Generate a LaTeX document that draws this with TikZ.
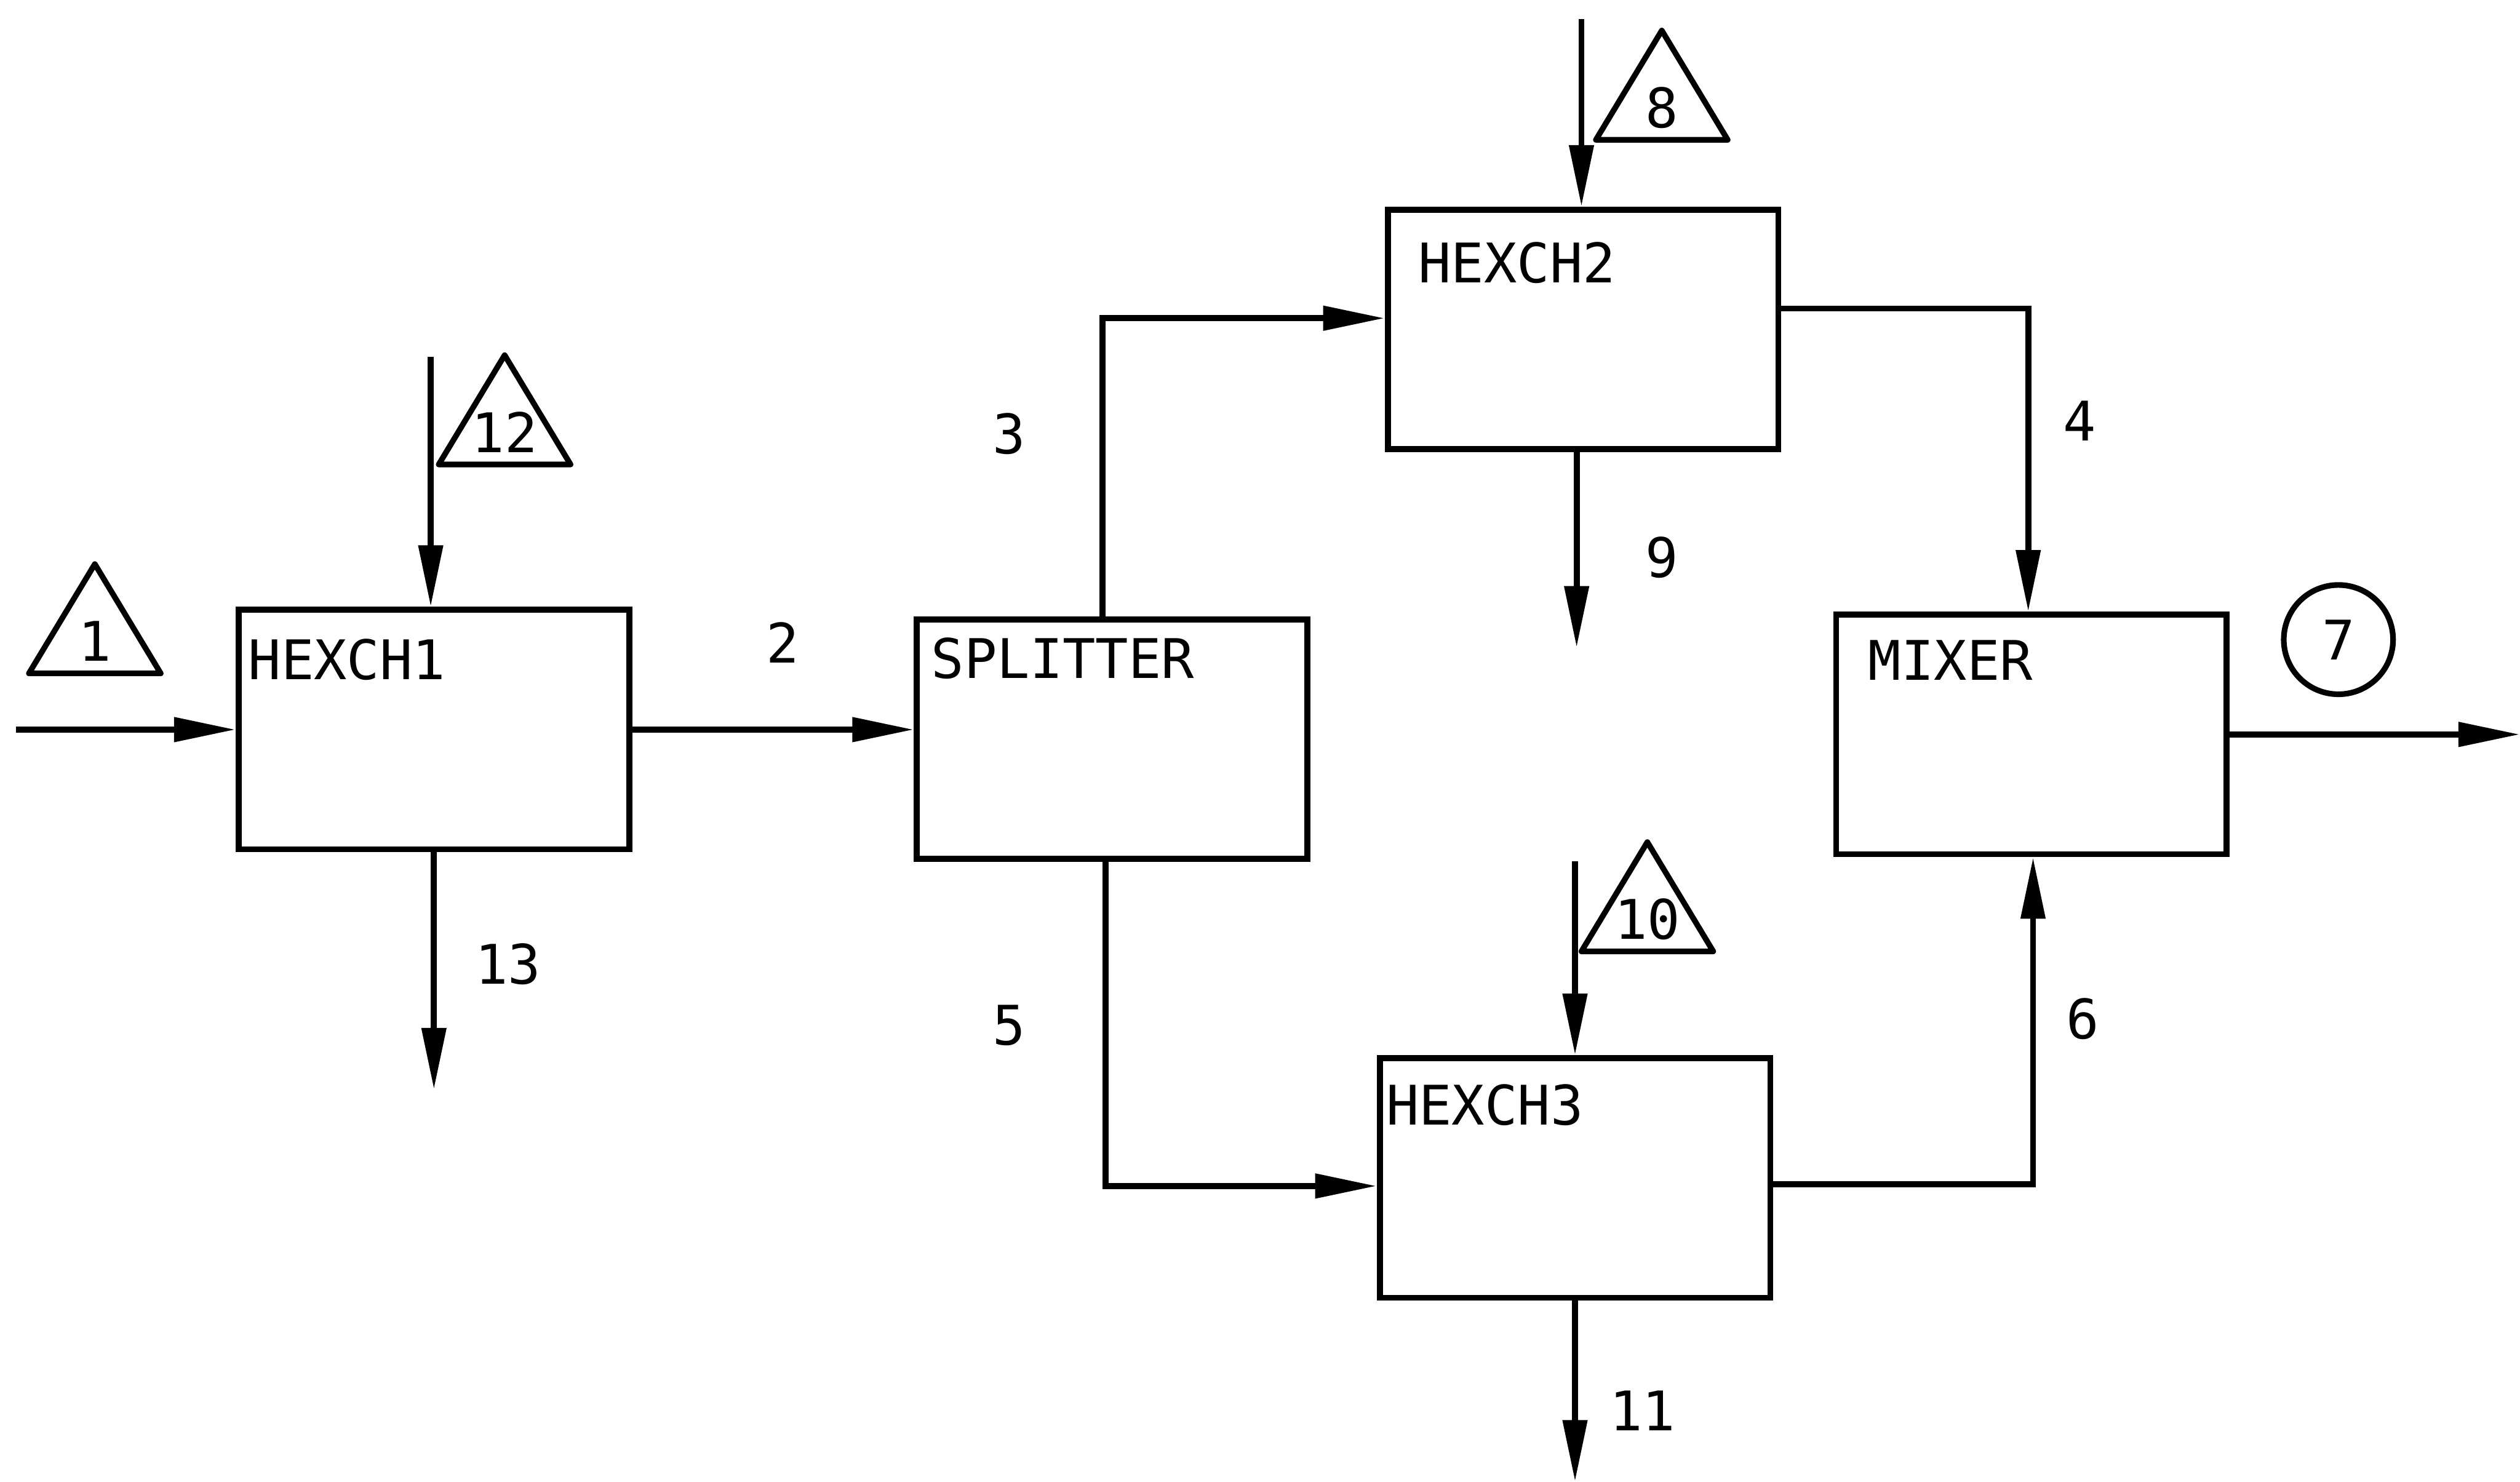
\documentclass[tikz,border=0pt]{standalone}
\usepackage{fontspec}
\newfontfamily\flowfont{DejaVu Sans Mono}
\usetikzlibrary{arrows.meta,calc}

% triangle tag for a fed stream: name, base centre, number
\newcommand\feedtag[3]{%
  \coordinate (#1) at (#2);
  \draw[feed] ($(#1)+(-41,0)$) -- ($(#1)+(0,-68)$) -- ($(#1)+(41,0)$) -- cycle;
  \node[tag] (#1-lbl) at ($(#1)+(0,-20)$) {#3};
}

\begin{document}
\begin{tikzpicture}[
        x=0.03cm, y=-0.03cm,
    every path/.style={line width=3.2pt},
    unit/.style={draw, line width=3.2pt, minimum width=7.29cm, minimum height=4.47cm, inner sep=0pt},
    tag/.style={font=\flowfont\fontsize{29}{30}\selectfont, inner sep=0pt},
    feed/.style={line width=3pt, line join=round},
    stream/.style={-{Triangle[length=1.15cm,width=0.44cm]}}
]
    \useasboundingbox (0,0) rectangle (1568,922);

    \node[unit] (hx1) at (270,454) {};
    \node[unit] (spl) at (692,460) {};
    \node[unit] (hx2) at (985,205) {};
    \node[unit] (mix) at (1264,457) {};
    \node[unit] (hx3) at (980,733) {};

    \node[tag, anchor=west] (hx1-name) at ($(hx1.north west)+(6,33)$) {HEXCH1};
    \node[tag, anchor=west] (spl-name) at ($(spl.north west)+(9,26)$) {SPLITTER};
    \node[tag, anchor=west] (hx2-name) at ($(hx2.north west)+(19,35)$) {HEXCH2};
    \node[tag, anchor=west] (mix-name) at ($(mix.north west)+(20,30)$) {MIXER};
    \node[tag, anchor=west] (hx3-name) at ($(hx3.north west)+(4,31)$) {HEXCH3};

    \coordinate (s1-in) at (10,454);
    \coordinate (s12-in) at (268,222);
    \coordinate (s13-out) at (270,678);
    \coordinate (s3-turn) at (686,198);
    \coordinate (s8-in) at (984,12);
    \coordinate (s9-out) at (981,403);
    \coordinate (s4-turn) at (1262,192);
    \coordinate (s5-turn) at (688,738);
    \coordinate (s10-in) at (980,536);
    \coordinate (s11-out) at (980,922);
    \coordinate (s6-turn) at (1265,737);
    \coordinate (s7-out) at (1568,457);

    \draw[stream] (s1-in) -- (hx1.west);
    \draw[stream] (s12-in) -- (s12-in |- hx1.north);
    \draw[stream] (s13-out |- hx1.south) -- (s13-out);
    \draw[stream] (hx1.east) -- (hx1.east -| spl.west);
    \draw[stream] (s3-turn |- spl.north) -- (s3-turn) -- (s3-turn -| hx2.west);
    \draw[stream] (s8-in) -- (s8-in |- hx2.north);
    \draw[stream] (s9-out |- hx2.south) -- (s9-out);
    \draw[stream] (s4-turn -| hx2.east) -- (s4-turn) -- (s4-turn |- mix.north);
    \draw[stream] (s5-turn |- spl.south) -- (s5-turn) -- (s5-turn -| hx3.west);
    \draw[stream] (s10-in) -- (s10-in |- hx3.north);
    \draw[stream] (s11-out |- hx3.south) -- (s11-out);
    \draw[stream] (s6-turn -| hx3.east) -- (s6-turn) -- (s6-turn |- mix.south);
    \draw[stream] (mix.east) -- (s7-out);

    \node[tag] (s2-lbl) at (487,400) {2};
    \node[tag] (s3-lbl) at (628,270) {3};
    \node[tag] (s4-lbl) at (1294,262) {4};
    \node[tag] (s5-lbl) at (628,638) {5};
    \node[tag] (s6-lbl) at (1296,634) {6};
    \node[tag] (s9-lbl) at (1034,347) {9};
    \node[tag] (s11-lbl) at (1022,878) {11};
    \node[tag] (s13-lbl) at (316,600) {13};

    \feedtag{s1}{59,419}{1}
    \feedtag{s12}{314,289}{12}
    \feedtag{s8}{1034,87}{8}
    \feedtag{s10}{1025,592}{10}

    \node[tag, draw, circle, line width=3pt, minimum size=2.04cm] (s7-tag) at (1455,398) {7};
  \end{tikzpicture}
\end{document}
